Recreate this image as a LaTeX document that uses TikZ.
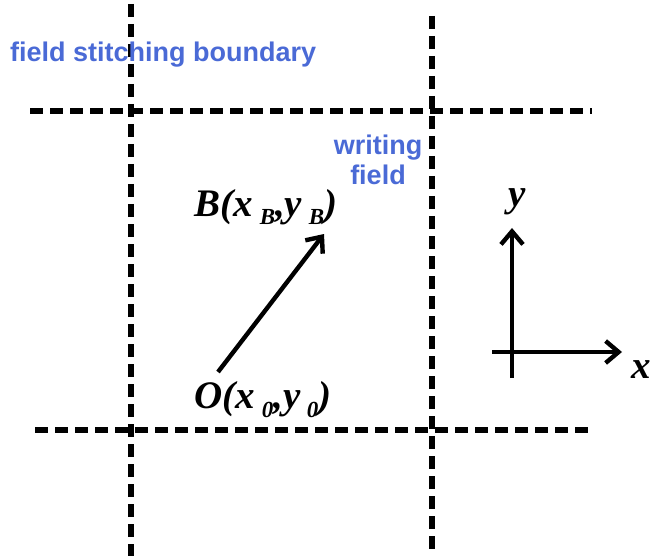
\documentclass[tikz,border=0pt]{standalone}
\usepackage{fontspec}
\setmainfont{Liberation Serif}
\newfontfamily\labelsans{Liberation Sans}
\usetikzlibrary{arrows.meta, positioning}
\definecolor{fieldblue}{HTML}{4A6AD6}
\newcommand{\ptsub}[1]{\,\raisebox{-0.5ex}{\fontsize{23}{25}\selectfont #1}}
\newcommand{\ptlabel}[3]{\textbf{\textit{#1(x\ptsub{#2},y\ptsub{#3})}}}

\begin{document}
\begin{tikzpicture}[x=1pt, y=-1pt,
    boundary/.style={line width=5.6pt, dash pattern=on 13pt off 7pt},
    vec/.style={line width=4.4pt, -{Straight Barb[length=13pt, width=22pt, line width=4.4pt]}},
    blue label/.style={font=\labelsans\bfseries\fontsize{27}{30}\selectfont,
                       text=fieldblue, align=center, inner sep=0pt},
    math label/.style={font=\fontsize{39}{42}\selectfont, inner sep=0pt}]
  \useasboundingbox (0,0) rectangle (653,556);
  % stitching boundaries
  \coordinate (v1t) at (131,4);   \coordinate (v1b) at (131,556);
  \coordinate (v2t) at (432,16);  \coordinate (v2b) at (432,556);
  \coordinate (h1l) at (30,111);  \coordinate (h1r) at (592,111);
  \coordinate (h2l) at (35,430);  \coordinate (h2r) at (592,430);
  \draw[boundary] (v1t) -- (v1b);
  \draw[boundary] (v2t) -- (v2b);
  \draw[boundary] (h1l) -- (h1r);
  \draw[boundary] (h2l) -- (h2r);
  \node[blue label, anchor=west] (stitch) at (10,55) {field stitching boundary};
  \node[blue label] (wfield) at (378,160) {writing\\field};
  % beam vector
  \coordinate (o) at (218,372);
  \coordinate (b) at (324,234);
  \draw[vec] (o) -- (b);
  \node[math label] (blabel) at (266,207) {\ptlabel{B}{B}{B}};
  \node[math label] (olabel) at (263,400) {\ptlabel{O}{0}{0}};
  % axes
  \coordinate (orig) at (512,352);
  \coordinate (xend) at (622,352);
  \coordinate (yend) at (512,228);
  \coordinate (xtail) at (492,352);
  \coordinate (ytail) at (512,378);
  \draw[vec] (xtail) -- (xend);
  \draw[vec] (ytail) -- (yend);
  \node[math label] (xlabel) at (641,370) {\textbf{\textit{x}}};
  \node[math label] (ylabel) at (517,202) {\textbf{\textit{y}}};
\end{tikzpicture}
\end{document}
